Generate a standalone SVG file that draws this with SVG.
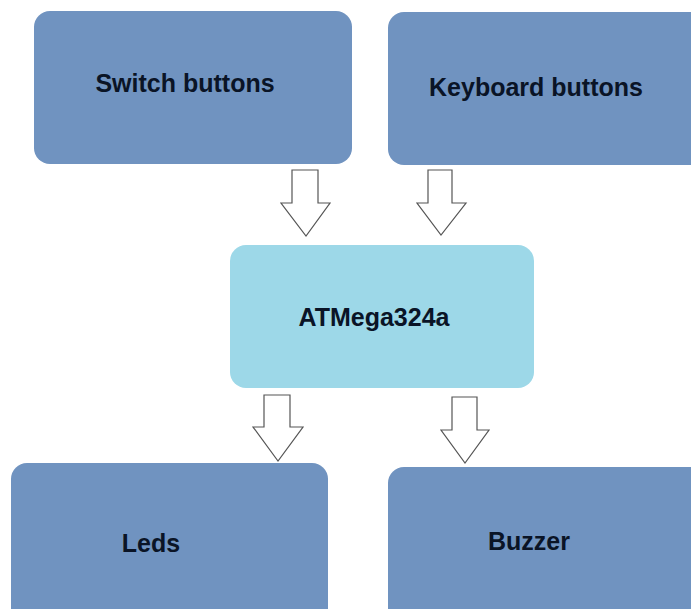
<svg xmlns="http://www.w3.org/2000/svg" width="691" height="609" viewBox="0 0 691 609">
<style>
.box{fill:#7093c0;}
.mcu{fill:#9dd8e8;}
.lbl{font-family:"Liberation Sans",Arial,sans-serif;font-weight:bold;font-size:25px;fill:#0a1426;text-anchor:middle;}
.arr{fill:#ffffff;stroke:#555555;stroke-width:1.2;stroke-linejoin:miter;}
</style>
<rect width="691" height="609" fill="#ffffff"/>
<g id="switch">
<rect class="box" x="34" y="11" width="318" height="153" rx="16"/>
<text class="lbl" x="185" y="92">Switch buttons</text>
</g>
<g id="keyboard">
<rect class="box" x="388" y="12" width="320" height="153" rx="16"/>
<text class="lbl" x="536" y="96">Keyboard buttons</text>
</g>
<g id="atmega">
<rect class="mcu" x="230" y="245" width="304" height="143" rx="16"/>
<text class="lbl" x="374" y="326">ATMega324a</text>
</g>
<g id="leds">
<rect class="box" x="11" y="463" width="317" height="170" rx="16"/>
<text class="lbl" x="151" y="552">Leds</text>
</g>
<g id="buzzer">
<rect class="box" x="388" y="467" width="320" height="170" rx="16"/>
<text class="lbl" x="529" y="550">Buzzer</text>
</g>
<g id="connectors">
<polygon class="arr" points="292,170 318,170 318,203 330,203 306,236 281,203 292,203"/>
<polygon class="arr" points="428,170 452,170 452,203 466,203 441,235 417,203 428,203"/>
<polygon class="arr" points="264,395 290,395 290,427 303,427 278,461 253,427 264,427"/>
<polygon class="arr" points="452,397 477,397 477,430 489,430 465,463 441,430 452,430"/>
</g>
</svg>
